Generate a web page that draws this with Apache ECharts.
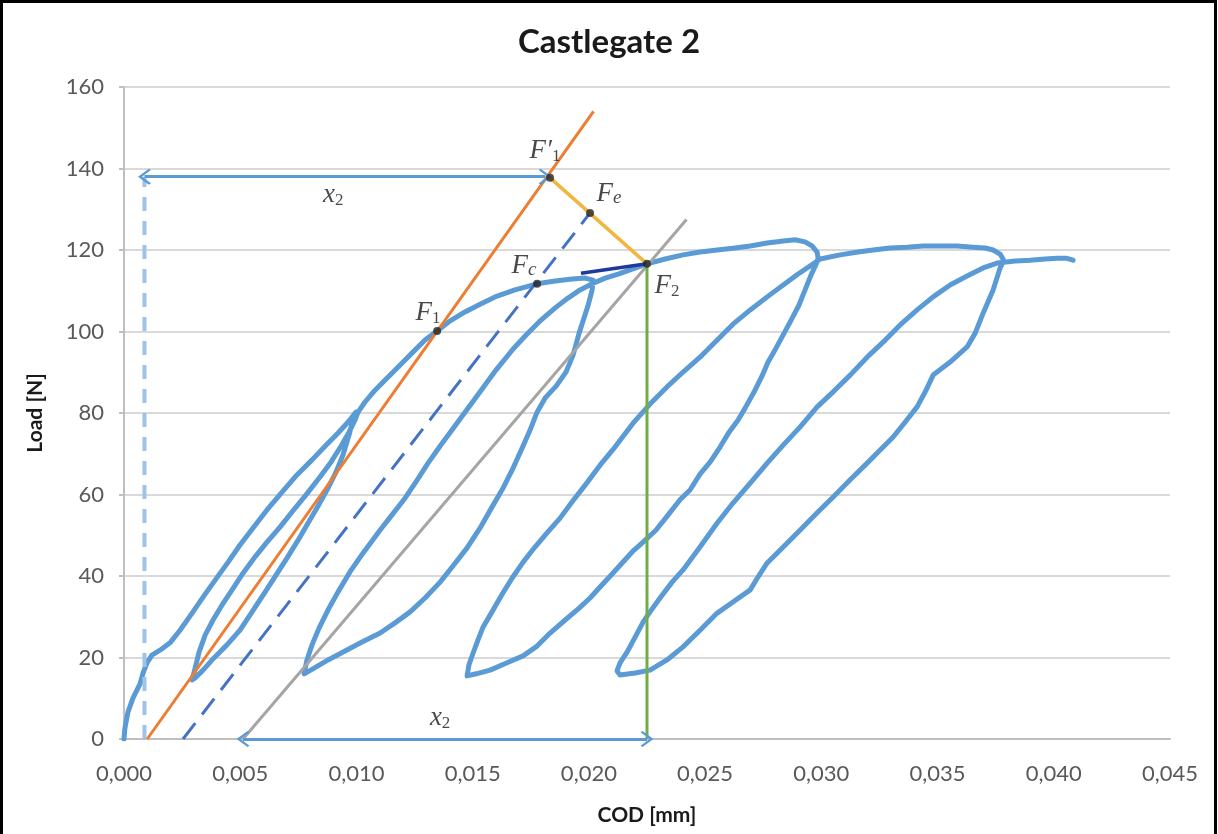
<!DOCTYPE html>
<html><head><meta charset="utf-8">
<script src="https://cdn.jsdelivr.net/npm/echarts@6/dist/echarts.min.js"></script>
<style>html,body{margin:0;padding:0;background:#fff}#c{width:1218px;height:834px}</style>
</head><body><div id="c"></div><script>
// ---- tick labels / axis ----
const xTicks = [0, 0.005, 0.010, 0.015, 0.020, 0.025, 0.030, 0.035, 0.040, 0.045];
const yTicks = [0, 20, 40, 60, 80, 100, 120, 140, 160];

// ---- measured COD [mm] / Load [N] curve, piece by piece ----
const loadingEnvelope = [[0,0],[0.00004,2.7],[0.00017,6.6],[0.00039,10.1],[0.00069,13.5],[0.00082,16.2],[0.00099,18.7],[0.00120,20.6],[0.00155,21.8],[0.00198,23.6],[0.00241,26.7],[0.00293,30.9],[0.00340,34.8],[0.00392,39.0],[0.00448,43.4],[0.00499,47.6],[0.00555,51.8],[0.00615,56.2],[0.00680,60.6],[0.00744,64.8],[0.00809,68.5],[0.00869,72.1],[0.00921,75.1],[0.00964,77.8],[0.00998,80.2]];
const cycle1Unload = [[0.00985,78.3],[0.00968,74.6],[0.00942,69.7],[0.00912,65.5],[0.00878,61.6],[0.00835,57.2],[0.00792,53.0],[0.00749,48.8],[0.00701,44.4],[0.00654,40.2],[0.00602,35.6],[0.00551,31.2],[0.00499,26.7],[0.00443,23.1],[0.00387,19.9],[0.00340,16.9],[0.00306,15.0],[0.00293,14.5]];
const cycle1Reload = [[0.00306,17.4],[0.00323,21.3],[0.00349,25.5],[0.00383,29.2],[0.00422,32.9],[0.00465,36.6],[0.00512,40.7],[0.00564,44.7],[0.00615,48.3],[0.00671,52.0],[0.00727,56.0],[0.00783,59.9],[0.00843,64.3],[0.00891,68.0],[0.00934,71.9],[0.00968,75.3],[0.00994,78.3],[0.01007,80.2]];
const envelopeToPeak2 = [[0.01037,82.7],[0.01080,85.6],[0.01132,88.6],[0.01188,91.8],[0.01244,95.0],[0.01295,97.9],[0.01347,100.1],[0.01403,102.6],[0.01467,104.8],[0.01532,106.7],[0.01605,108.7],[0.01682,110.2],[0.01777,111.7],[0.01855,112.4],[0.01928,112.9],[0.01984,113.1],[0.02018,112.6]];
const cycle2Unload = [[0.02014,110.2],[0.01997,106.5],[0.01979,103.3],[0.01958,99.6],[0.01932,94.2],[0.01902,90.1],[0.01859,86.6],[0.01812,83.7],[0.01777,80.2],[0.01747,75.8],[0.01713,71.4],[0.01674,66.5],[0.01631,61.6],[0.01583,56.9],[0.01532,51.8],[0.01476,46.9],[0.01416,42.5],[0.01360,38.5],[0.01295,34.6],[0.01231,31.2],[0.01166,28.5],[0.01102,26.0],[0.01024,23.8],[0.00951,21.6],[0.00878,19.4],[0.00818,17.4],[0.00775,16.0]];
const cycle2Reload = [[0.00787,19.4],[0.00809,23.1],[0.00839,27.2],[0.00878,31.7],[0.00921,36.1],[0.00972,41.0],[0.01028,45.6],[0.01102,51.3],[0.01153,55.0],[0.01209,59.1],[0.01256,63.1],[0.01308,67.7],[0.01360,71.9],[0.01411,75.8],[0.01467,80.2],[0.01532,85.2],[0.01601,90.6],[0.01674,95.7],[0.01734,99.4],[0.01794,102.8],[0.01855,105.8],[0.01910,108.2],[0.01962,110.2],[0.02014,111.7],[0.02070,113.1],[0.02126,114.1],[0.02186,115.3],[0.02250,116.6]];
const envelopeToPeak3 = [[0.02328,117.8],[0.02405,118.8],[0.02478,119.5],[0.02552,120.0],[0.02629,120.5],[0.02694,121.0],[0.02767,121.7],[0.02836,122.2],[0.02887,122.5],[0.02930,122.0],[0.02960,121.0],[0.02982,119.5],[0.02986,118.0]];
const cycle3Unload = [[0.02978,116.6],[0.02956,113.9],[0.02930,110.2],[0.02904,106.5],[0.02870,102.8],[0.02840,99.6],[0.02801,95.5],[0.02771,92.5],[0.02745,89.1],[0.02711,85.2],[0.02672,81.2],[0.02642,78.3],[0.02603,75.3],[0.02565,71.7],[0.02522,68.0],[0.02478,65.0],[0.02435,61.1],[0.02392,58.7],[0.02341,55.0],[0.02289,51.3],[0.02233,48.3],[0.02186,45.9],[0.02143,43.2],[0.02100,40.5],[0.02048,37.3],[0.02005,34.6],[0.01958,32.1],[0.01898,29.2],[0.01833,26.0],[0.01777,22.8],[0.01717,20.4],[0.01648,18.7],[0.01575,16.9],[0.01515,16.0],[0.01476,15.5]];
const cycle3Reload = [[0.01484,18.2],[0.01502,21.1],[0.01523,24.3],[0.01545,27.5],[0.01575,30.4],[0.01605,33.4],[0.01635,36.3],[0.01670,39.5],[0.01717,43.4],[0.01768,47.1],[0.01820,50.6],[0.01876,54.2],[0.01928,58.2],[0.01984,62.3],[0.02048,67.2],[0.02113,71.7],[0.02190,77.5],[0.02263,82.2],[0.02336,86.4],[0.02410,90.3],[0.02478,93.7],[0.02552,97.9],[0.02620,101.8],[0.02694,105.3],[0.02767,108.5],[0.02836,111.4],[0.02900,114.1],[0.02965,116.6],[0.02995,117.8]];
const envelopeToPeak4 = [[0.03081,118.8],[0.03158,119.5],[0.03223,120.0],[0.03296,120.5],[0.03369,120.7],[0.03438,121.0],[0.03511,121.0],[0.03584,121.0],[0.03653,120.7],[0.03705,120.5],[0.03739,120.0],[0.03769,119.0],[0.03782,117.8],[0.03778,116.6]];
const cycle4Unload = [[0.03769,115.6],[0.03739,110.2],[0.03696,104.5],[0.03662,99.6],[0.03627,96.2],[0.03554,92.5],[0.03481,89.3],[0.03447,85.2],[0.03412,81.5],[0.03361,77.8],[0.03309,74.1],[0.03253,70.9],[0.03197,67.7],[0.03124,63.6],[0.03051,59.4],[0.02982,55.5],[0.02909,51.3],[0.02836,47.1],[0.02767,43.2],[0.02728,39.8],[0.02694,36.6],[0.02620,33.6],[0.02552,30.9],[0.02478,26.7],[0.02405,22.6],[0.02336,19.4],[0.02263,16.9],[0.02199,16.2],[0.02134,15.7]];
const cycle4Reload = [[0.02121,16.7],[0.02134,18.7],[0.02164,21.3],[0.02199,25.0],[0.02233,28.7],[0.02263,31.2],[0.02306,34.6],[0.02358,38.5],[0.02405,41.5],[0.02478,47.1],[0.02552,53.0],[0.02620,57.9],[0.02694,62.8],[0.02767,67.7],[0.02836,72.1],[0.02909,76.6],[0.02982,81.5],[0.03051,85.2],[0.03124,89.3],[0.03197,93.7],[0.03275,97.9],[0.03339,101.6],[0.03412,105.3],[0.03481,108.5],[0.03554,111.4],[0.03627,113.6],[0.03696,115.6],[0.03756,116.8]];
const finalBranch = [[0.03834,117.3],[0.03898,117.5],[0.03963,117.8],[0.04015,118.0],[0.04053,118.0],[0.04083,117.5]];

// ---- construction lines ----
const orangeLine = [[0.0010,0],[0.0202,154]];
const grayLine = [[0.00512,0],[0.0242,127.5]];
const dashedLine = [[0.00254,0],[0.02005,129.1]];
const yellowLine = [[0.01833,137.7],[0.0225,116.6]];
const navyLine = [[0.01966,114.3],[0.0225,116.6]];
const greenLine = [[0.0225,0],[0.0225,116.6]];
const refVertical = [[0.00088,0],[0.00088,138]];
const topArrow = [[0.00088,138],[0.01812,138]];
const bottomArrow = [[0.00512,0],[0.0225,0]];

// ---- key points and labels ----
const keyPoints = [
  {name:'F1', value:[0.01347,100.1]},
  {name:'F1p', value:[0.01833,137.7]},
  {name:'Fe', value:[0.02005,129.1]},
  {name:'Fc', value:[0.01777,111.7]},
  {name:'F2', value:[0.0225,116.6]}
];
const x2Labels = [[0.0090,133.5],[0.0136,5.2]];

// ---- styling ----
const labelText = {F1:'{f|F}{s|1}', F1p:'{f|F′}{s|1}', Fe:'{f|F}{si|e}', Fc:'{f|F}{si|c}', F2:'{f|F}{s|2}'};
const labelOffset = {F1:[-9,-18], F1p:[-5,-27], Fe:[19,-19], Fc:[-13,-18], F2:[20,22]};
const rich = {
  f:{fontFamily:'Liberation Serif', fontStyle:'italic', fontSize:27, color:'#1a1a1a', lineHeight:28},
  s:{fontFamily:'Liberation Serif', fontStyle:'normal', fontSize:17, color:'#1a1a1a', verticalAlign:'bottom', lineHeight:10},
  si:{fontFamily:'Liberation Serif', fontStyle:'italic', fontSize:19, color:'#1a1a1a', verticalAlign:'bottom', lineHeight:10}
};
const chevron = 'path://M0,0 L12,11 L10,13 L0,4 L-10,13 L-12,11 Z';

const curve = [].concat(loadingEnvelope, cycle1Unload, cycle1Reload, envelopeToPeak2, cycle2Unload, cycle2Reload,
  envelopeToPeak3, cycle3Unload, cycle3Reload, envelopeToPeak4, cycle4Unload, cycle4Reload, finalBranch);

function lineSeries(data, color, width, type, z){
  return {type:'line', data, symbol:'none', silent:true, animation:false, z:z||3,
    lineStyle:{color, width, type:type||'solid', cap:'butt'}};
}
function arrowSeries(pts){
  return {type:'line', data:[], silent:true, animation:false, z:4,
    markLine:{silent:true, animation:false, symbol:[chevron, chevron], symbolSize:[16,13],
      label:{show:false}, lineStyle:{color:'#5b9bd5', width:3, type:'solid'},
      data:[[{coord:pts[0]},{coord:pts[1]}]]}};
}

const chart = echarts.init(document.getElementById('c'));
chart.setOption({
  animation:false,
  backgroundColor:'#ffffff',
  title:{text:'Castlegate 2', left:'center', top:21,
    textStyle:{fontFamily:'Lato', fontWeight:'bold', fontSize:33, color:'#1a1a1a'}},
  grid:{left:124, right:48, top:87, bottom:95, containLabel:false, outerBoundsMode:'none'},
  xAxis:{type:'value', min:xTicks[0], max:xTicks[xTicks.length-1], interval:0.005,
    name:'COD [mm]', nameLocation:'middle', nameGap:66,
    nameTextStyle:{fontFamily:'Lato', fontWeight:'bold', fontSize:21, color:'#1a1a1a'},
    axisLine:{show:true, onZero:false, lineStyle:{color:'#bfbfbf', width:2}},
    axisTick:{show:false},
    splitLine:{show:false},
    axisLabel:{fontFamily:'Lato', fontSize:22, color:'#595959', margin:24,
      formatter:v=>v.toFixed(3).replace('.',',')}},
  yAxis:{type:'value', min:yTicks[0], max:yTicks[yTicks.length-1], interval:20,
    name:'Load [N]', nameLocation:'middle', nameGap:78, nameRotate:90,
    nameTextStyle:{fontFamily:'Lato', fontWeight:'bold', fontSize:21, color:'#1a1a1a'},
    axisLine:{show:true, lineStyle:{color:'#bfbfbf', width:2}},
    axisTick:{show:true, length:5, lineStyle:{color:'#bfbfbf', width:2}},
    splitLine:{show:true, lineStyle:{color:'#d9d9d9', width:2}},
    axisLabel:{fontFamily:'Lato', fontSize:22, color:'#595959', margin:20}},
  graphic:[{type:'rect', shape:{x:1.5, y:1.5, width:1214, height:860}, style:{fill:'none', stroke:'#000', lineWidth:3}, silent:true, z:100}],
  series:[
    {type:'line', data:curve, symbol:'none', silent:true, animation:false, z:2,
      lineStyle:{color:'#5b9bd5', width:5, join:'round', cap:'round'}},
    lineSeries(refVertical, '#9dc3e6', 4, [14,10]),
    lineSeries(orangeLine, '#ed7d31', 3),
    lineSeries(grayLine, '#a5a5a5', 3),
    lineSeries(dashedLine, '#4472c4', 3, [20,11]),
    lineSeries(yellowLine, '#f2b540', 3.5),
    lineSeries(navyLine, '#1f3a9c', 3.5),
    lineSeries(greenLine, '#70ad47', 3),
    arrowSeries(topArrow),
    arrowSeries(bottomArrow),
    {type:'scatter', silent:true, animation:false, z:6, symbolSize:8,
      itemStyle:{color:'#262626'},
      data:keyPoints.map(p=>({value:p.value,
        label:{show:true, position:'inside', offset:labelOffset[p.name], formatter:labelText[p.name], rich}}))},
    {type:'scatter', silent:true, animation:false, z:6, symbolSize:0,
      data:x2Labels.map(v=>({value:v,
        label:{show:true, position:'inside', formatter:'{f|x}{s|2}', rich}}))}
  ]
});
</script></body></html>
